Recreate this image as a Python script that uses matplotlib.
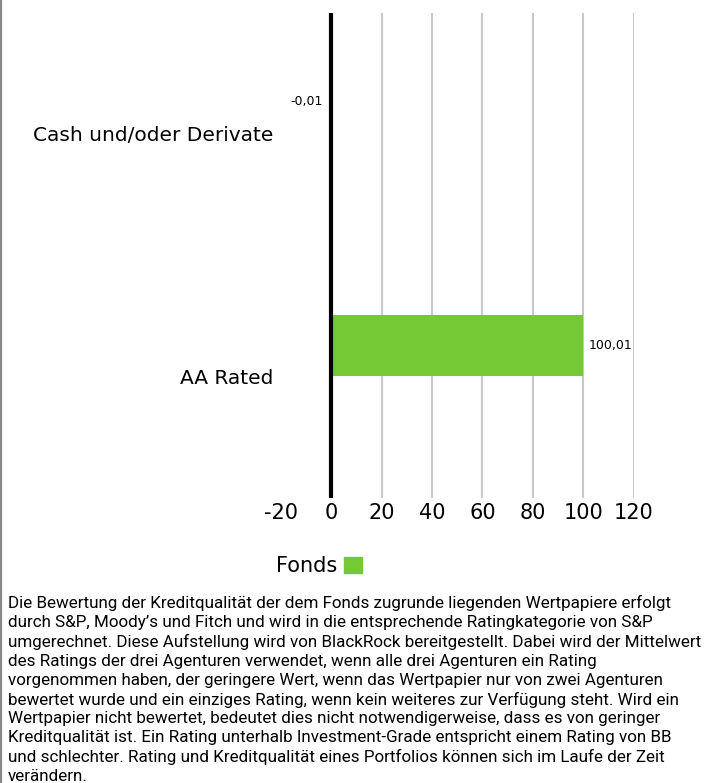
import matplotlib
matplotlib.use("Agg")
import matplotlib.pyplot as plt
from matplotlib.patches import Patch
from matplotlib.lines import Line2D
import matplotlib.transforms as mtrans

# data
categories = ["Cash und/oder Derivate", "AA Rated"]
values = [-0.01, 100.01]
value_labels = ["-0,01", "100,01"]
series_name = "Fonds"
xticks = [-20, 0, 20, 40, 60, 80, 100, 120]
footnote = ("Die Bewertung der Kreditqualität der dem Fonds zugrunde liegenden Wertpapiere erfolgt\n"
            "durch S&P, Moody’s und Fitch und wird in die entsprechende Ratingkategorie von S&P\n"
            "umgerechnet. Diese Aufstellung wird von BlackRock bereitgestellt. Dabei wird der Mittelwert\n"
            "des Ratings der drei Agenturen verwendet, wenn alle drei Agenturen ein Rating\n"
            "vorgenommen haben, der geringere Wert, wenn das Wertpapier nur von zwei Agenturen\n"
            "bewertet wurde und ein einziges Rating, wenn kein weiteres zur Verfügung steht. Wird ein\n"
            "Wertpapier nicht bewertet, bedeutet dies nicht notwendigerweise, dass es von geringer\n"
            "Kreditqualität ist. Ein Rating unterhalb Investment-Grade entspricht einem Rating von BB\n"
            "und schlechter. Rating und Kreditqualität eines Portfolios können sich im Laufe der Zeit\n"
            "verändern.")

green = "#74c935"
plt.rcParams['font.family'] = ['DejaVu Sans']

fig = plt.figure(figsize=(7.12, 7.83), dpi=100)
ax = fig.add_axes([0.394, 0.3646, 0.4964, 0.6188])

pos = list(range(len(categories)))
ax.barh(pos, values, height=0.25, color=green, zorder=2)

# gridlines right of zero, thick zero line
for t in xticks:
    if t > 0:
        ax.axvline(t, color="#c8c8c8", lw=1.5, zorder=1)
ax.axvline(0, color="black", lw=3, zorder=3)

ax.set_xlim(-20, 120)
ax.set_ylim(1.624, -0.365)
ax.set_xticks(xticks)
ax.set_xticklabels([str(t) for t in xticks], fontsize=15)
ax.tick_params(axis="x", length=0, pad=4)
ax.set_yticks([])
for s in ax.spines.values():
    s.set_visible(False)

# value labels
for p, v, lab in zip(pos, values, value_labels):
    if v < 0:
        ax.annotate(lab, (0, p), xytext=(-6, 0), textcoords="offset points",
                    ha="right", va="center", fontsize=9)
    else:
        ax.annotate(lab, (v, p), xytext=(4, 0), textcoords="offset points",
                    ha="left", va="center", fontsize=9)

# category labels, sitting a bit below the bar centre
tr = mtrans.blended_transform_factory(ax.transAxes, ax.transData)
for p, c in zip(pos, categories):
    ax.text(-0.021, p + 0.136, c, transform=tr, ha="right", va="center", fontsize=14.5)

fig.legend(handles=[Patch(color=green)], labels=[series_name], markerfirst=False,
           frameon=False, loc="center", bbox_to_anchor=(0.448, 0.277), fontsize=15,
           handlelength=0.85, handleheight=0.85, handletextpad=0.35)

fig.text(0.011, 1 - 595 / 783, footnote, ha="left", va="top", fontsize=12.25,
         linespacing=1.315, family=["Roboto", "DejaVu Sans"])

fig.add_artist(Line2D([0.0012, 0.0012], [0, 1], transform=fig.transFigure, color="#888888", lw=1.6))

fig.savefig("out.png", dpi=100)
